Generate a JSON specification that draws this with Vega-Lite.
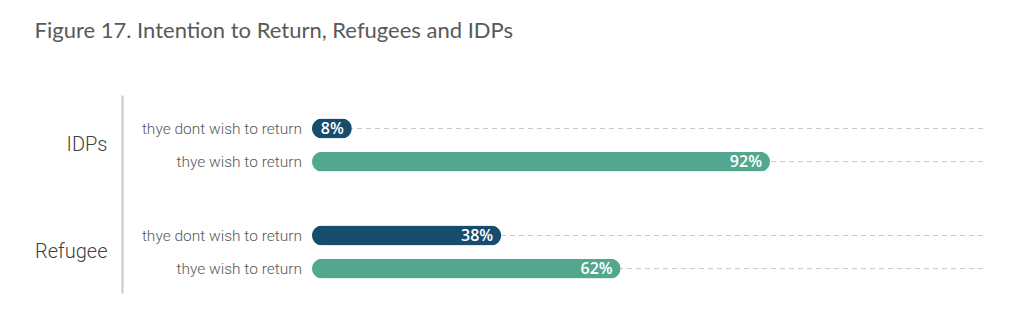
{
  "$schema": "https://vega.github.io/schema/vega-lite/v6.json",
  "width": 672,
  "height": 198,
  "padding": {"left": 34, "top": 20, "right": 5, "bottom": 5},
  "background": "white",
  "title": {
    "text": "Figure 17. Intention to Return, Refugees and IDPs",
    "anchor": "start",
    "frame": "bounds",
    "font": "Lato",
    "fontSize": 22,
    "fontWeight": "normal",
    "color": "#595959",
    "offset": 52
  },
  "config": {"view": {"stroke": null}},
  "data": {
    "values": [
      {"group": "IDPs", "answer": "thye dont wish to return", "value": 0.08},
      {"group": "IDPs", "answer": "thye wish to return", "value": 0.92},
      {"group": "Refugee", "answer": "thye dont wish to return", "value": 0.38},
      {"group": "Refugee", "answer": "thye wish to return", "value": 0.62}
    ]
  },
  "encoding": {
    "y": {
      "field": "group",
      "type": "nominal",
      "sort": ["IDPs", "Refugee"],
      "scale": {"paddingInner": 0.505, "paddingOuter": 0.178, "align": 0.62},
      "axis": {
        "title": null,
        "offset": 190,
        "domainColor": "#c8c8c8",
        "domainWidth": 2,
        "ticks": false,
        "labelPadding": 15,
        "labelFont": "Roboto",
        "labelFontWeight": 300,
        "labelFontSize": 20,
        "labelColor": "#404040"
      }
    },
    "yOffset": {
      "field": "answer",
      "type": "nominal",
      "sort": ["thye dont wish to return", "thye wish to return"],
      "scale": {"paddingInner": 0.4, "paddingOuter": 0}
    }
  },
  "layer": [
    {
      "mark": {"type": "rule", "color": "#c8c8c8", "strokeDash": [5, 4], "strokeWidth": 1},
      "encoding": {
        "x": {"datum": 0, "type": "quantitative", "scale": {"domain": [0, 1.35], "nice": false}, "axis": null},
        "x2": {"datum": 1.35}
      }
    },
    {
      "mark": {"type": "bar", "cornerRadius": 10},
      "encoding": {
        "x": {"field": "value", "type": "quantitative", "axis": null},
        "color": {
          "field": "answer",
          "type": "nominal",
          "scale": {"domain": ["thye dont wish to return", "thye wish to return"], "range": ["#174c6e", "#52a88f"]},
          "legend": null
        }
      }
    },
    {
      "mark": {"type": "text", "align": "right", "baseline": "middle", "dx": -8, "color": "white", "font": "Open Sans", "fontWeight": 600, "fontSize": 16},
      "encoding": {
        "x": {"field": "value", "type": "quantitative", "axis": null},
        "text": {"field": "value", "type": "quantitative", "format": ".0%"}
      }
    },
    {
      "mark": {"type": "text", "align": "right", "baseline": "middle", "dx": -10, "color": "#595959", "font": "Roboto", "fontWeight": 300, "fontSize": 15.5},
      "encoding": {
        "x": {"datum": 0, "type": "quantitative", "axis": null},
        "text": {"field": "answer", "type": "nominal"}
      }
    }
  ]
}
